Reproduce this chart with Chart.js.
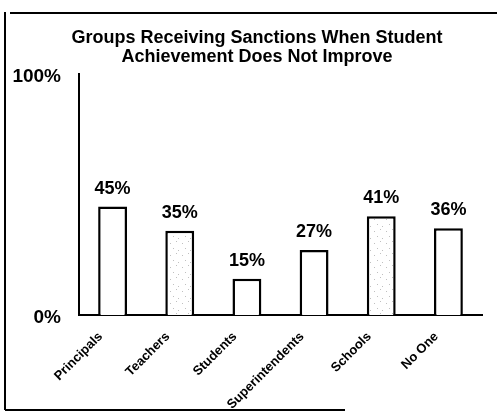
<!DOCTYPE html>
<html>
<head>
<meta charset="utf-8">
<script src="https://cdn.jsdelivr.net/npm/chart.js@4/dist/chart.umd.min.js"></script>
<style>
  html, body { margin: 0; padding: 0; background: #fff; }
  #wrap { width: 497px; height: 414px; }
</style>
</head>
<body>
<div id="wrap"><canvas id="c" width="497" height="414"></canvas></div>
<script>
// ---- data ----
const categories = ["Principals", "Teachers", "Students", "Superintendents", "Schools", "No One"];
const values = [45, 35, 15, 27, 41, 36];
const valueLabels = ["45%", "35%", "15%", "27%", "41%", "36%"];
const stippled = [false, true, false, false, true, false];
const yTickValues = [0, 100];
const titleLines = ["Groups Receiving Sanctions When Student", "Achievement Does Not Improve"];

// stipple pattern for shaded bars
function makeStipple() {
  const p = document.createElement('canvas');
  p.width = 12; p.height = 12;
  const g = p.getContext('2d');
  g.fillStyle = '#ffffff';
  g.fillRect(0, 0, 12, 12);
  g.fillStyle = '#c0c0c0';
  [[2,3],[8,1],[5,8],[10,10]].forEach(([x,y]) => g.fillRect(x, y, 1, 1));
  return g.createPattern(p, 'repeat');
}
const stipple = makeStipple();

const framePlugin = {
  id: 'frame',
  beforeDraw(chart) {
    const ctx = chart.ctx;
    ctx.save();
    ctx.fillStyle = '#fff';
    ctx.fillRect(0, 0, chart.width, chart.height);
    ctx.strokeStyle = '#000';
    ctx.lineWidth = 2;
    ctx.beginPath();
    ctx.moveTo(10, 13); ctx.lineTo(497, 13);
    ctx.moveTo(5, 12); ctx.lineTo(5, 410);
    ctx.moveTo(5, 410); ctx.lineTo(345, 410);
    ctx.stroke();
    // title (real text)
    ctx.fillStyle = '#000';
    ctx.font = 'bold 18px "Liberation Sans", Arial, sans-serif';
    ctx.textAlign = 'center';
    ctx.textBaseline = 'middle';
    titleLines.forEach((t, i) => ctx.fillText(t, 257, 38 + i * 19));
    ctx.restore();
  }
};

const valueLabelPlugin = {
  id: 'valueLabels',
  afterDatasetsDraw(chart) {
    const ctx = chart.ctx;
    const meta = chart.getDatasetMeta(0);
    ctx.save();
    ctx.fillStyle = '#000';
    ctx.font = 'bold 18px "Liberation Sans", Arial, sans-serif';
    ctx.textAlign = 'center';
    ctx.textBaseline = 'alphabetic';
    meta.data.forEach((bar, i) => {
      ctx.fillText(valueLabels[i], bar.x, bar.y - 13);
    });
    ctx.restore();
  }
};

new Chart(document.getElementById('c'), {
  type: 'bar',
  data: {
    labels: categories,
    datasets: [{
      data: values,
      backgroundColor: stippled.map(s => s ? stipple : '#ffffff'),
      borderColor: '#000',
      borderWidth: 2.5,
      borderSkipped: 'bottom',
      categoryPercentage: 1,
      barPercentage: 0.43
    }]
  },
  options: {
    responsive: false,
    animation: false,
    layout: { padding: { left: 0, right: 15, top: 74, bottom: 0 } },
    plugins: {
      legend: { display: false },
      tooltip: { enabled: false },
      title: { display: false }
    },
    scales: {
      x: {
        grid: { display: false, drawTicks: false },
        border: { display: true, color: '#000', width: 2 },
        ticks: {
          color: '#000',
          minRotation: 45,
          maxRotation: 45,
          padding: 14,
          labelOffset: -12,
          font: { family: '"Liberation Sans", Arial, sans-serif', size: 13, weight: 'bold' }
        },
        afterFit(scale) { scale.height = 99; }
      },
      y: {
        min: 0,
        max: 100,
        afterBuildTicks(scale) { scale.ticks = yTickValues.map(v => ({ value: v })); },
        grid: { display: false, drawTicks: false },
        border: { display: true, color: '#000', width: 2 },
        ticks: {
          color: '#000',
          padding: 18,
          labelOffset: 3,
          callback: v => v + '%',
          font: { family: '"Liberation Sans", Arial, sans-serif', size: 19, weight: 'bold' }
        },
        afterFit(scale) { scale.width = 79; }
      }
    }
  },
  plugins: [framePlugin, valueLabelPlugin]
});
</script>
</body>
</html>
